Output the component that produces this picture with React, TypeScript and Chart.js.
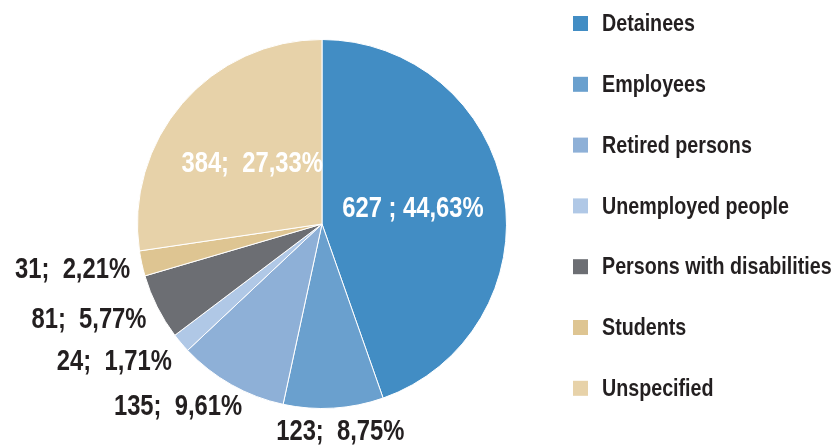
import React, { useEffect, useRef } from "react";
import { Chart, registerables } from "chart.js";

Chart.register(...registerables);

const categories = [
  "Detainees",
  "Employees",
  "Retired persons",
  "Unemployed people",
  "Persons with disabilities",
  "Students",
  "Unspecified",
];
const counts = [627, 123, 135, 24, 81, 31, 384];
const percentLabels = ["44,63%", "8,75%", "9,61%", "1,71%", "5,77%", "2,21%", "27,33%"];
const countLabels = ["627 ;", "123;", "135;", "24;", "81;", "31;", "384;"];
const insideSlices = [true, false, false, false, false, false, true];
const colors = ["#428DC4", "#6AA0CE", "#8EB0D7", "#B0C8E6", "#6C6E73", "#DEC592", "#E7D2A9"];

const FONT = '"Liberation Sans", Arial, sans-serif';
const NARROW = 0.82;
const TEXT_DARK = "#231F20";

function drawNarrow(ctx: any, text: string, x: number, y: number, align: "left" | "center") {
  const w = ctx.measureText(text).width * NARROW;
  const left = align === "center" ? x - w / 2 : x;
  ctx.save();
  ctx.translate(left, y);
  ctx.scale(NARROW, 1);
  ctx.textAlign = "left";
  ctx.fillText(text, 0, 0);
  ctx.restore();
}

const labelPlugin = {
  id: "sliceLabels",
  afterDatasetsDraw(chart: any) {
    const ctx = chart.ctx;
    const meta = chart.getDatasetMeta(0);
    ctx.save();
    ctx.font = `bold 29px ${FONT}`;
    ctx.textBaseline = "middle";
    meta.data.forEach((arc: any, i: number) => {
      const { x, y, startAngle, endAngle, outerRadius } = arc.getProps(
        ["x", "y", "startAngle", "endAngle", "outerRadius"],
        true
      );
      const mid = (startAngle + endAngle) / 2;
      const c = Math.cos(mid);
      const s = Math.sin(mid);
      const sep = countLabels[i].endsWith(" ;") ? " " : "  ";
      const text = `${countLabels[i]}${sep}${percentLabels[i]}`;
      if (insideSlices[i]) {
        const d = outerRadius * 0.5;
        ctx.fillStyle = "#FFFFFF";
        drawNarrow(ctx, text, x + c * d, y + s * d, "center");
      } else {
        const w = ctx.measureText(text).width * NARROW;
        const halfW = w / 2;
        const halfH = 12;
        const d = outerRadius + 12;
        const clamp = (t: number) => Math.max(-1, Math.min(1, t * 1.5));
        const px = x + c * d + halfW * clamp(c);
        const py = y + s * d + halfH * clamp(s);
        ctx.fillStyle = TEXT_DARK;
        drawNarrow(ctx, text, px, py, "center");
      }
    });
    ctx.restore();
  },
};

const legendPlugin = {
  id: "sideLegend",
  afterDraw(chart: any) {
    const ctx = chart.ctx;
    const labels = chart.data.labels as string[];
    const bg = chart.data.datasets[0].backgroundColor as string[];
    const x0 = 573;
    const y0 = 16;
    const step = 60.8;
    const box = 15;
    ctx.save();
    ctx.font = `bold 24px ${FONT}`;
    ctx.textBaseline = "middle";
    labels.forEach((lab, i) => {
      const yy = y0 + i * step;
      ctx.fillStyle = bg[i];
      ctx.fillRect(x0, yy, box, box);
      ctx.fillStyle = TEXT_DARK;
      drawNarrow(ctx, lab, x0 + 29, yy + box / 2 + 1, "left");
    });
    ctx.restore();
  },
};

export default function App() {
  const ref = useRef<HTMLCanvasElement | null>(null);
  useEffect(() => {
    if (!ref.current) return;
    const chart = new Chart(ref.current, {
      type: "pie",
      data: {
        labels: categories,
        datasets: [
          {
            data: counts,
            backgroundColor: colors,
            borderColor: "#FFFFFF",
            borderWidth: 1,
          },
        ],
      },
      options: {
        responsive: false,
        animation: false,
        layout: { padding: { left: 137, right: 325, top: 39, bottom: 37 } },
        plugins: {
          legend: { display: false },
          tooltip: { enabled: false },
        },
      },
      plugins: [labelPlugin, legendPlugin],
    });
    return () => chart.destroy();
  }, []);
  return (
    <div style={{ position: "absolute", left: 0, top: 0, width: 832, height: 446, background: "#fff" }}>
      <canvas ref={ref} width={832} height={446} />
    </div>
  );
}
